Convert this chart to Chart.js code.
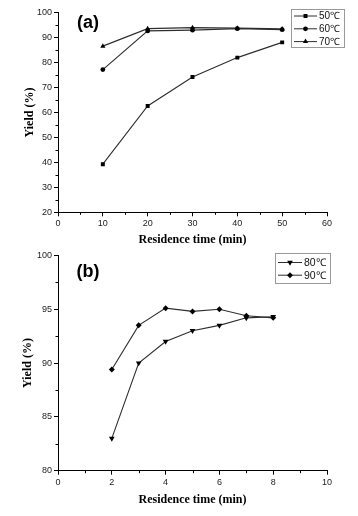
<!DOCTYPE html>
<html>
<head>
<meta charset="utf-8">
<script src="https://cdn.jsdelivr.net/npm/chart.js@4"></script>
<style>
  body { margin: 0; background: #fff; }
  #wrap { position: relative; width: 358px; height: 516px; }
  #boxA { position: absolute; left: 0; top: 0; width: 358px; height: 250px; }
  #boxB { position: absolute; left: 0; top: 248px; width: 358px; height: 268px; }
</style>
</head>
<body>
<div id="wrap">
  <div id="boxA"><canvas id="chartA"></canvas></div>
  <div id="boxB"><canvas id="chartB"></canvas></div>
</div>
<script>
// --- dados (a) ---
const tempoA = [10, 20, 30, 40, 50];
const rend50 = [39.3, 62.6, 74.2, 82.0, 88.1];
const rend60 = [77.2, 92.7, 93.0, 93.6, 93.2];
const rend70 = [86.6, 93.6, 94.0, 93.8, 93.5];
const legendaA = ["50℃", "60℃", "70℃"];
const minorXA = [5, 15, 25, 35, 45, 55];
const minorYA = [25, 35, 45, 55, 65, 75, 85, 95];

// --- dados (b) ---
const tempoB = [2, 3, 4, 5, 6, 7, 8];
const rend80 = [83.0, 90.0, 92.0, 93.0, 93.5, 94.2, 94.3];
const rend90 = [89.4, 93.5, 95.1, 94.8, 95.0, 94.4, 94.2];
const legendaB = ["80℃", "90℃"];
const minorXB = [1, 3, 5, 7, 9];
const minorYB = [82.5, 87.5, 92.5, 97.5];

const pares = (xs, ys) => xs.map((x, i) => ({ x: x, y: ys[i] }));

function serie(label, xs, ys, estilo, raio, rot) {
    return {
        label: label,
        data: pares(xs, ys),
        borderColor: '#2e2e2e',
        borderWidth: 1.1,
        pointStyle: estilo,
        pointRadius: raio,
        pointRotation: rot || 0,
        pointBackgroundColor: '#000',
        pointBorderColor: '#000',
        pointBorderWidth: 0,
        tension: 0
    };
}

function desenhaPonto(ctx, estilo, x, y, raio, rot) {
    ctx.save();
    ctx.fillStyle = '#000';
    ctx.strokeStyle = '#000';
    ctx.lineWidth = 0;
    Chart.helpers.drawPoint(ctx, { pointStyle: estilo, radius: raio, rotation: rot || 0, borderWidth: 0 }, x, y);
    ctx.restore();
}

// plugin: ticks menores, legenda em caixa e rótulo (a)/(b)
const extras = {
    id: 'extras',
    afterDraw(chart, args, opts) {
        const ctx = chart.ctx;
        const sx = chart.scales.x, sy = chart.scales.y;
        ctx.save();
        ctx.strokeStyle = '#000';
        ctx.lineWidth = 1;
        ctx.beginPath();
        opts.minorX.forEach(v => {
            const px = Math.round(sx.getPixelForValue(v)) + 0.5;
            ctx.moveTo(px, sx.top);
            ctx.lineTo(px, sx.top + 2.5);
        });
        opts.minorY.forEach(v => {
            const py = Math.round(sy.getPixelForValue(v)) + 0.5;
            ctx.moveTo(sy.right, py);
            ctx.lineTo(sy.right - 2.5, py);
        });
        ctx.stroke();

        // legenda
        const L = opts.legend;
        ctx.fillStyle = '#fff';
        ctx.fillRect(L.x, L.y, L.w, L.h);
        ctx.strokeStyle = '#999';
        ctx.strokeRect(L.x + 0.5, L.y + 0.5, L.w, L.h);
        chart.data.datasets.forEach((ds, i) => {
            const yy = L.y + L.first + i * L.step;
            ctx.strokeStyle = '#2e2e2e';
            ctx.beginPath();
            ctx.moveTo(L.x + 3, yy + 0.5);
            ctx.lineTo(L.x + 3 + L.line, yy + 0.5);
            ctx.stroke();
            desenhaPonto(ctx, ds.pointStyle, L.x + 3 + L.line / 2, yy + 0.5, ds.pointRadius, ds.pointRotation);
            ctx.fillStyle = '#111';
            ctx.font = L.font + 'px "Liberation Sans", Arial, sans-serif';
            ctx.textBaseline = 'middle';
            ctx.textAlign = 'left';
            ctx.fillText(ds.label, L.x + 5 + L.line, yy + 1);
        });

        // rótulo do painel
        ctx.fillStyle = '#000';
        ctx.font = 'bold 18px "Liberation Sans", Arial, sans-serif';
        ctx.textAlign = 'center';
        ctx.textBaseline = 'middle';
        ctx.fillText(opts.tag, opts.tagX, opts.tagY);
        ctx.restore();
    }
};

function eixo(min, max, passo, titulo, extra) {
    return Object.assign({
        type: 'linear',
        min: min,
        max: max,
        ticks: { stepSize: passo, color: '#222', padding: 2, font: { family: '"Liberation Sans", Arial, sans-serif', size: 9 } },
        grid: { display: true, drawOnChartArea: false, drawTicks: true, tickLength: 4, tickColor: '#000', tickWidth: 1 },
        border: { display: true, color: '#000', width: 1 },
        title: { display: true, text: titulo, color: '#000', font: { family: '"Liberation Serif", "Times New Roman", serif', size: 12, weight: 'bold' } }
    }, extra);
}

function opcoes(cfg) {
    return {
        responsive: false,
        animation: false,
        layout: { padding: { left: 0, right: cfg.padRight, top: cfg.padTop, bottom: 0 } },
        plugins: {
            legend: { display: false },
            tooltip: { enabled: false },
            extras: cfg.extras
        },
        scales: {
            x: eixo(cfg.xMin, cfg.xMax, cfg.xStep, 'Residence time (min)', {
                afterFit: s => { s.height = cfg.xHeight; }
            }),
            y: eixo(cfg.yMin, cfg.yMax, cfg.yStep, 'Yield (%)', {
                afterFit: s => { s.width = 58; }
            })
        }
    };
}

function monta(id, w, h, datasets, cfg) {
    const cv = document.getElementById(id);
    cv.width = w; cv.height = h;
    cv.style.width = w + 'px'; cv.style.height = h + 'px';
    const o = opcoes(cfg);
    o.scales.x.title.padding = { top: 0, bottom: cfg.titlePadX };
    o.scales.y.title.padding = { top: cfg.titlePadY, bottom: 0 };
    return new Chart(cv.getContext('2d'), {
        type: 'line',
        data: { datasets: datasets },
        options: o,
        plugins: [extras]
    });
}

monta('chartA', 358, 250, [
    serie(legendaA[0], tempoA, rend50, 'rect', 2.8),
    serie(legendaA[1], tempoA, rend60, 'circle', 2.4),
    serie(legendaA[2], tempoA, rend70, 'triangle', 3)
], {
    padRight: 31, padTop: 12.7, xHeight: 37.7, titlePadX: 2.8, titlePadY: 22.8,
    xMin: 0, xMax: 60, xStep: 10, yMin: 20, yMax: 100, yStep: 10,
    extras: {
        minorX: minorXA, minorY: minorYA, tag: '(a)', tagX: 88, tagY: 23,
        legend: { x: 291, y: 9, w: 53, h: 38, first: 6.5, step: 12.8, line: 23, font: 10 }
    }
});

monta('chartB', 358, 268, [
    serie(legendaB[0], tempoB, rend80, 'triangle', 3.3, 180),
    serie(legendaB[1], tempoB, rend90, 'rectRot', 3)
], {
    padRight: 31, padTop: 6, xHeight: 45.3, titlePadX: 8.8, titlePadY: 20.3,
    xMin: 0, xMax: 10, xStep: 2, yMin: 80, yMax: 100, yStep: 5,
    extras: {
        minorX: minorXB, minorY: minorYB, tag: '(b)', tagX: 88, tagY: 24,
        legend: { x: 275, y: 5, w: 55, h: 30, first: 9, step: 12.7, line: 24, font: 10.5 }
    }
});
</script>
</body>
</html>
